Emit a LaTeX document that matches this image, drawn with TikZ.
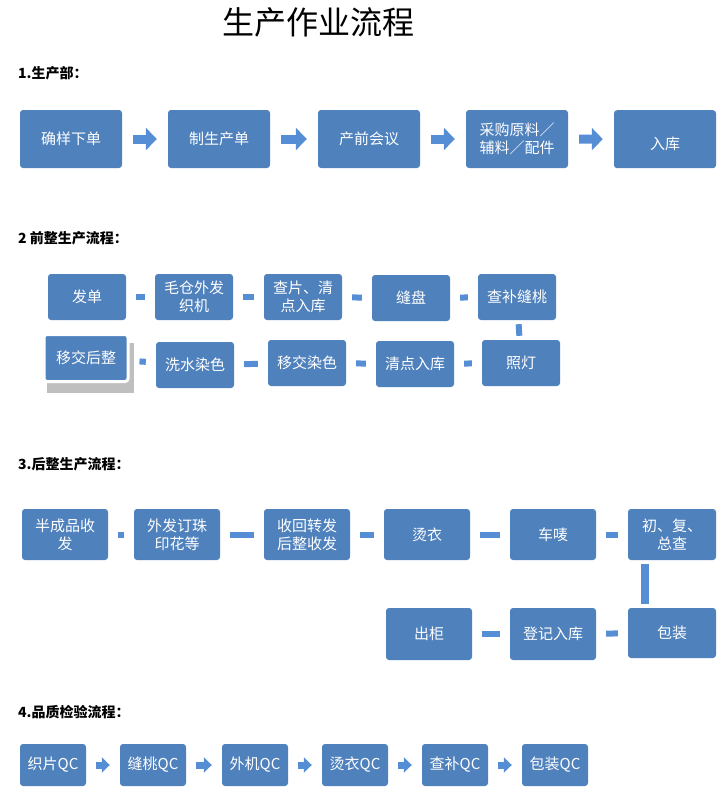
\documentclass[tikz,border=0pt]{standalone}
\usepackage{fontspec}
\setmainfont{Noto Sans CJK SC}
\usetikzlibrary{arrows.meta}
\definecolor{boxc}{HTML}{4F81BD}
\definecolor{linkc}{HTML}{558ED5}
\tikzset{x=1pt,y=-1pt,
 bx/.style={fill=boxc,rounded corners=3pt,text=white,font=\fontsize{15}{18}\selectfont,align=center,inner sep=0pt},
 bar/.style={linkc,line width=6pt,shorten >=10pt,shorten <=10pt},
 barv/.style={linkc,line width=6pt,shorten >=4pt,shorten <=4pt},
 blk/.style={linkc,line width=9pt,-{Triangle[width=22pt,length=11pt]},shorten >=11pt,shorten <=11pt},
 blks/.style={linkc,line width=7pt,-{Triangle[width=15pt,length=8pt]},shorten >=10pt,shorten <=10pt},
 hd/.style={anchor=west,font=\fontsize{14}{16}\selectfont\bfseries,inner sep=0pt}}
\newcommand{\bxat}[6]{\node[bx,minimum width={#4-#2},minimum height={#5-#3}] (#1) at ({(#2+#4)/2},{(#3+#5)/2}) {#6};}
\begin{document}
\begin{tikzpicture}
\useasboundingbox (0,0) rectangle (727,792);
\node[font=\fontsize{32}{36}\selectfont] (title) at (318,22) {生产作业流程};
\node[hd] (h1) at (18,73) {1.生产部：};
\node[hd] (h2) at (18,238) {2 前整生产流程：};
\node[hd] (h3) at (18,464) {3.后整生产流程：};
\node[hd] (h4) at (18,712) {4.品质检验流程：};
% section 1
\bxat{a1}{20}{110}{122}{168}{确样下单}
\bxat{a2}{168}{110}{270}{168}{制生产单}
\bxat{a3}{318}{110}{420}{168}{产前会议}
\bxat{a4}{466}{110}{568}{168}{采购原料／\\辅料／配件}
\node[bx,minimum width=102pt,minimum height=58pt,anchor=north,text height=22pt] (a5) at (665,110) {入库};
\foreach \p/\q in {a1/a2,a2/a3,a3/a4,a4/a5} \draw[blk] (\p) -- (\q);
% section 2
\bxat{b1}{48}{274}{126}{320}{发单}
\bxat{b2}{155}{274}{233}{320}{毛仓外发\\织机}
\bxat{b3}{264}{274}{342}{320}{查片、清\\点入库}
\bxat{b4}{372}{275}{450}{321}{缝盘}
\bxat{b5}{478}{274}{556}{320}{查补缝桃}
\fill[gray!50] (47,343) rectangle (134,393);
\node[bx,draw=white,line width=3pt,minimum width=84pt,minimum height=47pt] (c1) at (86,358) {移交后整};
\bxat{c2}{156}{342}{234}{388}{洗水染色}
\bxat{c3}{268}{340}{346}{386}{移交染色}
\bxat{c4}{376}{341}{454}{387}{清点入库}
\bxat{c5}{482}{340}{560}{386}{照灯}
\foreach \p/\q in {b1/b2,b2/b3,b3/b4,b4/b5,c5/c4,c4/c3,c3/c2,c2/c1} \draw[bar] (\p) -- (\q);
\draw[barv] (b5) -- (c5);
% section 3
\bxat{d1}{22}{509}{108}{560}{半成品收\\发}
\bxat{d2}{134}{509}{220}{560}{外发订珠\\印花等}
\bxat{d3}{264}{509}{350}{560}{收回转发\\后整收发}
\bxat{d4}{384}{509}{470}{560}{烫衣}
\bxat{d5}{510}{509}{596}{560}{车唛}
\bxat{d6}{628}{509}{716}{560}{初、复、\\总查}
\bxat{e1}{386}{608}{472}{660}{出柜}
\bxat{e2}{510}{608}{596}{660}{登记入库}
\bxat{e3}{628}{608}{716}{658}{包装}
\foreach \p/\q in {d1/d2,d2/d3,d3/d4,d4/d5,d5/d6,e3/e2,e2/e1} \draw[bar] (\p) -- (\q);
\coordinate (v1) at (645,560); \coordinate (v2) at (645,608);
\draw[linkc,line width=8pt,shorten >=4pt,shorten <=4pt] (v1) -- (v2);
% section 4
\bxat{f1}{20}{744}{86}{786}{织片QC}
\bxat{f2}{120}{744}{186}{786}{缝桃QC}
\bxat{f3}{222}{744}{288}{786}{外机QC}
\bxat{f4}{322}{744}{388}{786}{烫衣QC}
\bxat{f5}{422}{744}{488}{786}{查补QC}
\bxat{f6}{522}{744}{588}{786}{包装QC}
\foreach \p/\q in {f1/f2,f2/f3,f3/f4,f4/f5,f5/f6} \draw[blks] (\p) -- (\q);
\end{tikzpicture}
\end{document}
